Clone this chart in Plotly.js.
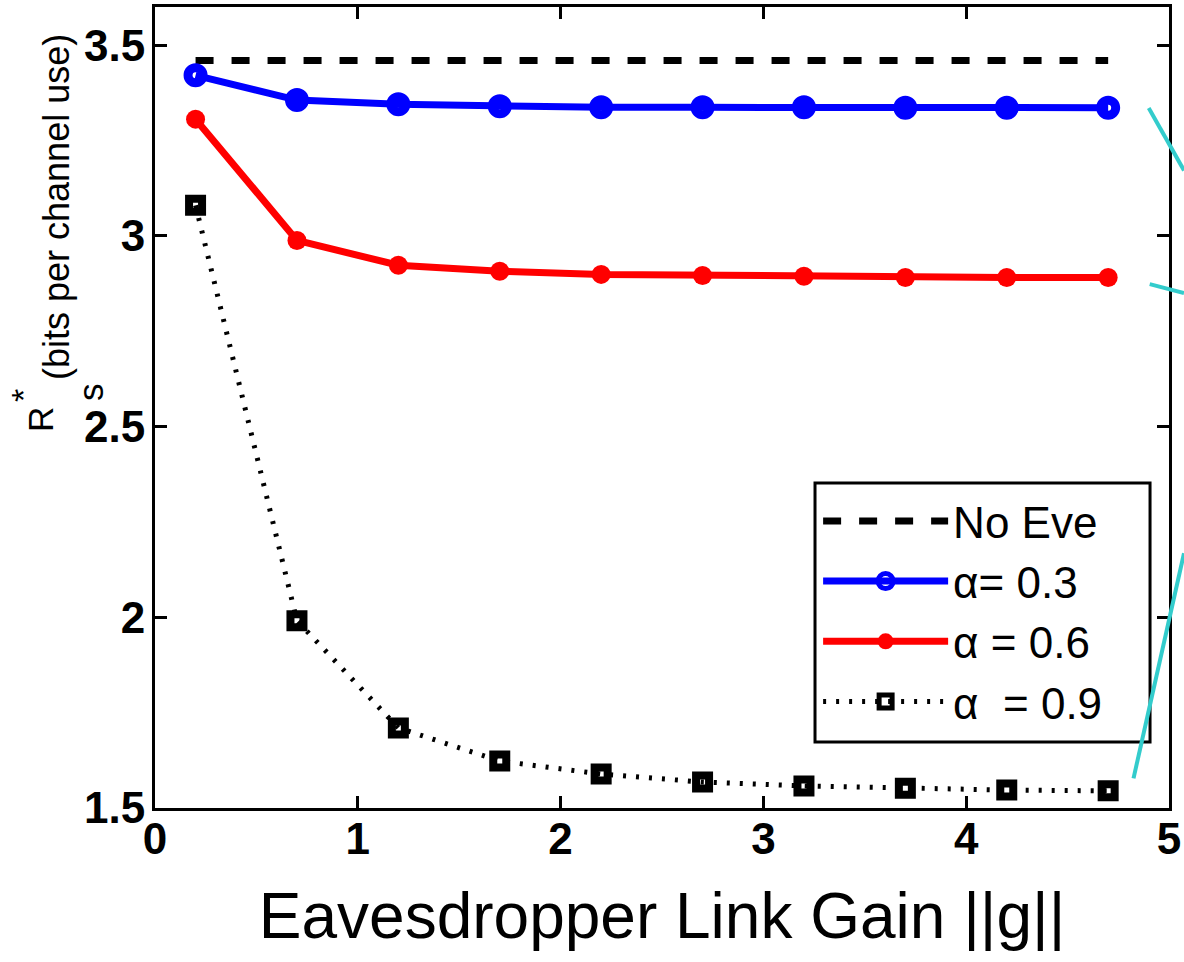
<!DOCTYPE html>
<html>
<head>
<meta charset="utf-8">
<script src="https://cdn.plot.ly/plotly-3.0.1.min.js"></script>
<style>
  html, body { margin: 0; padding: 0; background: #fff; }
  #chart { width: 1184px; height: 962px; }
</style>
</head>
<body>
<div id="chart"></div>
<script>
// Eavesdropper link gain ||g||
const gain = [0.2, 0.7, 1.2, 1.7, 2.2, 2.7, 3.2, 3.7, 4.2, 4.7];
// Secrecy rate R_s* (bits per channel use)
const noEve   = [3.46, 3.46, 3.46, 3.46, 3.46, 3.46, 3.46, 3.46, 3.46, 3.46];
const alpha03 = [3.421, 3.356, 3.345, 3.340, 3.337, 3.337, 3.337, 3.336, 3.336, 3.336];
const alpha06 = [3.306, 2.988, 2.923, 2.907, 2.899, 2.896, 2.894, 2.891, 2.891, 2.891];
const alpha09 = [3.080, 1.991, 1.710, 1.623, 1.589, 1.568, 1.558, 1.552, 1.547, 1.545];
const seriesNames = ["No Eve", "\u03b1= 0.3", "\u03b1 = 0.6", "\u03b1\u00a0\u00a0= 0.9"];
const xTicks = [0, 1, 2, 3, 4, 5];
const yTicks = [1.5, 2, 2.5, 3, 3.5];
const xTitle = "Eavesdropper Link Gain ||g||";
const yTitleParts = ["R", "s", "*", "(bits per channel use)"];

const FONT = "Liberation Sans, Arial, Helvetica, sans-serif";

const traces = [
  { x: gain, y: noEve, name: seriesNames[0], mode: "lines",
    line: { color: "#000000", width: 7, dash: "18px,18px" } },
  { x: gain, y: alpha03, name: seriesNames[1], mode: "lines+markers",
    line: { color: "#0000ff", width: 7 },
    marker: { symbol: "circle-open", size: 15, color: "#0000ff", line: { width: 9, color: "#0000ff" } } },
  { x: gain, y: alpha06, name: seriesNames[2], mode: "lines+markers",
    line: { color: "#ff0000", width: 7 },
    marker: { symbol: "circle", size: 19, color: "#ff0000" } },
  { x: gain, y: alpha09, name: seriesNames[3], mode: "lines+markers",
    line: { color: "#000000", width: 5, dash: "3px,10px" },
    marker: { symbol: "square-open", size: 13, color: "#000000", line: { width: 8, color: "#000000" } } }
];

const axisCommon = {
  showline: true, linecolor: "#000", linewidth: 3, mirror: "allticks",
  ticks: "inside", ticklen: 12, tickwidth: 3, tickcolor: "#000",
  showgrid: false, zeroline: false,
  tickfont: { family: FONT, size: 44, color: "#000", weight: "bold" }
};

function yTitleAnn(text, px, py, size) {
  return {
    xref: "paper", yref: "paper", x: (px - 155) / 1014, y: (808 - py) / 801,
    xanchor: "center", yanchor: "middle", textangle: -90, showarrow: false,
    text: text, font: { family: FONT, size: size, color: "#000" }
  };
}

const layout = {
  width: 1184, height: 962,
  margin: { l: 155, r: 15, t: 7, b: 154 },
  paper_bgcolor: "#fff", plot_bgcolor: "#fff",
  showlegend: true,
  xaxis: Object.assign({}, axisCommon, {
    range: [0, 5], tickvals: xTicks, ticktext: xTicks.map(String),
    ticklabelstandoff: -10,
    title: { text: xTitle, font: { family: FONT, size: 64, color: "#000" }, standoff: 32 }
  }),
  yaxis: Object.assign({}, axisCommon, {
    range: [1.5, 3.6], tickvals: yTicks, ticktext: yTicks.map(String),
    ticklabelstandoff: -2
  }),
  legend: {
    x: 0.651, y: 0.406, xanchor: "left", yanchor: "top",
    bgcolor: "rgba(0,0,0,0)", bordercolor: "rgba(0,0,0,0)", borderwidth: 3,
    font: { family: FONT, size: 44, color: "#000" },
    itemwidth: 125, tracegroupgap: 0
  },
  annotations: [
    yTitleAnn(yTitleParts[0], 41, 420, 35),
    yTitleAnn(yTitleParts[1], 91, 392, 35),
    yTitleAnn(yTitleParts[2], 23, 396, 34),
    yTitleAnn(yTitleParts[3], 56, 207, 36)
  ],
  shapes: [
    // legend frame
    { type: "rect", xref: "paper", yref: "paper", x0: 0.6509, x1: 0.9813, y0: 0.0824, y1: 0.4057,
      fillcolor: "#ffffff", line: { color: "#000000", width: 3 }, layer: "above" },
    // callout lines of the original figure
    { type: "line", xref: "paper", yref: "paper", x0: 0.980, y0: 0.874, x1: 1.0148, y1: 0.796, line: { color: "#33cccc", width: 4 } },
    { type: "line", xref: "paper", yref: "paper", x0: 0.981, y0: 0.654, x1: 1.0148, y1: 0.643, line: { color: "#33cccc", width: 4 } },
    { type: "line", xref: "paper", yref: "paper", x0: 0.965, y0: 0.037, x1: 1.0148, y1: 0.318, line: { color: "#33cccc", width: 4 } }
  ]
};

Plotly.newPlot("chart", traces, layout, { displayModeBar: false, staticPlot: true });
</script>
</body>
</html>
